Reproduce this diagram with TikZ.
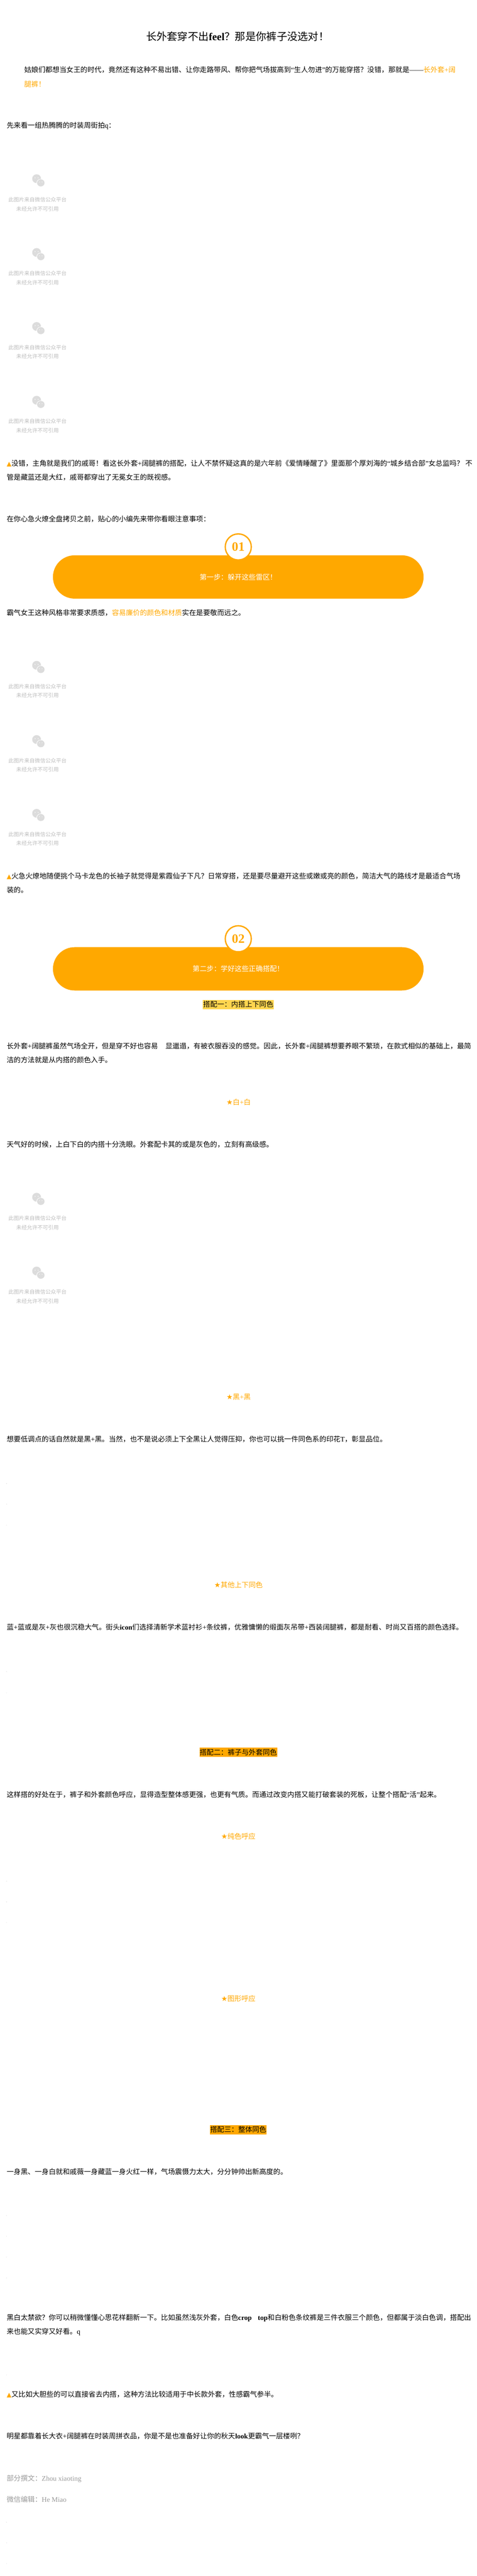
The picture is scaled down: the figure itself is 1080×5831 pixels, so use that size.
\documentclass[tikz,border=0pt]{standalone}
\usepackage{fontspec}
\setmainfont{Noto Sans CJK SC}
\newfontfamily\latinfont{Liberation Serif}
\newfontfamily\symfont{DejaVu Sans}
\definecolor{acc}{HTML}{FFA800}
\definecolor{hly}{HTML}{FFD54F}
\definecolor{phg}{HTML}{BDBDBD}
\definecolor{icong}{HTML}{DCDCDC}
\definecolor{capg}{HTML}{9A9A9A}
\newcommand\la[1]{{\latinfont #1}}
\newcommand\lb[1]{{\latinfont\bfseries #1}}
\newcommand\tri{{\color{acc}\symfont\fontsize{14}{14}\selectfont ▲}}
\newcommand\str{{\color{acc}\symfont\fontsize{16}{16}\selectfont ★}}
\newcommand\acc[1]{\textcolor{acc}{#1}}
\newcommand\bodyline[4]{\node[bodytext] (#1) at (#2,#3) {#4};}
\newcommand\placeholder[2]{%
  \fill[icong] (83,#2-5) ellipse (10pt and 10pt);
  \fill[white] (92.5,#2+4.5) ellipse (9.8pt and 9pt);
  \fill[icong] (92.5,#2+4.5) ellipse (8.5pt and 8pt);
  \fill[white] (79.5,#2-7) circle (1pt) (86.5,#2-7) circle (1pt) (89.5,#2+2.5) circle (.8pt) (95.5,#2+2.5) circle (.8pt);
  \node[phtext] (#1a) at (85,#2+42.5) {此图片来自微信公众平台};
  \node[phtext] (#1b) at (85,#2+63) {未经允许不可引用};
}
\tikzset{
  bodytext/.style={anchor=base west,inner sep=0pt,yshift=-6pt,font=\fontsize{15.9}{20}\selectfont,text=black},
  phtext/.style={anchor=center,inner sep=0pt,font=\fontsize{12}{14}\selectfont,text=phg},
  pillbox/.style={rectangle,rounded corners=49pt,fill=acc,minimum width=840pt,minimum height=98pt,inner sep=0pt,text=white,font=\fontsize{15.9}{20}\selectfont},
  numcircle/.style={circle,draw=acc,line width=3pt,fill=white,minimum size=59pt,inner sep=0pt,text=acc,font=\latinfont\bfseries\fontsize{29}{30}\selectfont},
  hlbox/.style={rectangle,inner sep=0pt,minimum height=21pt,font=\fontsize{15.9}{20}\selectfont,text=black},
  startext/.style={anchor=base west,inner sep=0pt,yshift=-6pt,font=\fontsize{15.9}{20}\selectfont,text=acc},
}
\begin{document}
\begin{tikzpicture}[x=1pt,y=-1pt]
\useasboundingbox (0,0) rectangle (1080,5831);
\fill[white] (0,0) rectangle (1080,5831);

\node[anchor=base west,inner sep=0pt,yshift=-9pt,font=\fontsize{23.7}{28}\selectfont] (title) at (331,82) {长外套穿不出\lb{feel}？那是你裤子没选对！};

\bodyline{p1a}{55}{158}{姑娘们都想当女王的时代，竟然还有这种不易出错、让你走路带风、帮你把气场拔高到\la{“}生人勿进\la{”}的万能穿搭？没错，那就是\la{——}\acc{长外套\la{+}阔}}
\bodyline{p1b}{55}{190}{\acc{腿裤！}}
\bodyline{p2}{15}{284}{先来看一组热腾腾的时装周街拍\la{q}：}

\placeholder{ph1}{409.5}
\placeholder{ph2}{576.5}
\placeholder{ph3}{744}
\placeholder{ph4}{911}

\bodyline{p3a}{15}{1049}{\tri 没错，主角就是我们的戚哥！看这长外套\la{+}阔腿裤的搭配，让人不禁怀疑这真的是六年前《爱情睡醒了》里面那个厚刘海的\la{“}城乡结合部\la{”}女总监吗？\la{ }不}
\bodyline{p3b}{15}{1080}{管是藏蓝还是大红，戚哥都穿出了无冕女王的既视感。}
\bodyline{p4}{15}{1175}{在你心急火燎全盘拷贝之前，贴心的小编先来带你看眼注意事项：}

\node[pillbox] (pill1) at (540,1306) {第一步：躲开这些雷区！};
\node[numcircle] (num1) at (540,1238) {01};

\bodyline{p5}{15}{1387}{霸气女王这种风格非常要求质感，\acc{容易廉价的颜色和材质}实在是要敬而远之。}

\placeholder{ph5}{1511}
\placeholder{ph6}{1679}
\placeholder{ph7}{1846}

\bodyline{p6a}{15}{1983}{\tri 火急火燎地随便挑个马卡龙色的长袖子就觉得是紫霞仙子下凡？日常穿搭，还是要尽量避开这些或嫩或亮的颜色，简洁大气的路线才是最适合气场}
\bodyline{p6b}{15}{2014}{装的。}

\node[pillbox] (pill2) at (540,2193) {第二步：学好这些正确搭配！};
\node[numcircle] (num2) at (540,2125) {02};

\node[hlbox,fill=hly,minimum width=160pt] (h1) at (540,2273.5) {搭配一：内搭上下同色};

\bodyline{p7a}{15}{2368}{长外套\la{+}阔腿裤虽然气场全开，但是穿不好也容易\hspace{17pt}显邋遢，有被衣服吞没的感觉。因此，长外套\la{+}阔腿裤想要养眼不繁琐，在款式相似的基础上，最简}
\bodyline{p7b}{15}{2399}{洁的方法就是从内搭的颜色入手。}

\node[startext] (s1) at (513,2495) {\str 白\la{+}白};
\bodyline{p8}{15}{2590}{天气好的时候，上白下白的内搭十分洗眼。外套配卡其的或是灰色的，立刻有高级感。}

\placeholder{ph8}{2715}
\placeholder{ph9}{2882}

\node[startext] (s2) at (513,3162) {\str 黑\la{+}黑};
\bodyline{p9}{15}{3257}{想要低调点的话自然就是黑\la{+}黑。当然，也不是说必须上下全黑让人觉得压抑，你也可以挑一件同色系的印花\la{T}，彰显品位。}

\node[startext] (s3) at (485.5,3588) {\str 其他上下同色};
\bodyline{p10}{15}{3683}{蓝\la{+}蓝或是灰\la{+}灰也很沉稳大气。街头\lb{icon}们选择清新学术蓝衬衫\la{+}条纹裤，优雅慵懒的缎面灰吊带\la{+}西装阔腿裤，都是耐看、时尚又百搭的颜色选择。}

\node[hlbox,fill=acc,minimum width=176pt] (h2) at (540,3966) {搭配二：裤子与外套同色};

\bodyline{p11}{15}{4062}{这样搭的好处在于，裤子和外套颜色呼应，显得造型整体感更强，也更有气质。而通过改变内搭又能打破套装的死板，让整个搭配\la{“}活\la{”}起来。}

\node[startext] (s4) at (501,4157) {\str 纯色呼应};
\node[startext] (s5) at (501,4524) {\str 图形呼应};

\node[hlbox,fill=acc,minimum width=128pt] (h3) at (540,4820.5) {搭配三：整体同色};

\bodyline{p12}{15}{4916}{一身黑、一身白就和戚薇一身藏蓝一身火红一样，气场震慑力太大，分分钟帅出新高度的。}

\bodyline{p13a}{15}{5246}{黑白太禁欲？你可以稍微懂懂心思花样翻新一下。比如虽然浅灰外套，白色\lb{crop\hspace{14pt}top}和白粉色条纹裤是三件衣服三个颜色，但都属于淡白色调，搭配出}
\bodyline{p13b}{15}{5277}{来也能又实穿又好看。\la{q}}
\bodyline{p14}{15}{5420}{\tri 又比如大胆些的可以直接省去内搭，这种方法比较适用于中长款外套，性感霸气参半。}
\bodyline{p15}{15}{5514}{明星都靠着长大衣\la{+}阔腿裤在时装周拼衣品，你是不是也准备好让你的秋天\lb{look}更霸气一层楼咧？}
\bodyline{c1}{15}{5610}{\textcolor{capg}{部分撰文：\la{Zhou xiaoting}}}
\bodyline{c2}{15}{5658}{\textcolor{capg}{微信编辑：\la{He Miao}}}

\foreach \dy in {3358,3405,3452,3784,3832,4258,4305,4352,5015,5062,5109,5156,5376,5709,5756,5803}
  \fill[gray!60] (15,\dy) circle (.5pt);
\end{tikzpicture}
\end{document}
